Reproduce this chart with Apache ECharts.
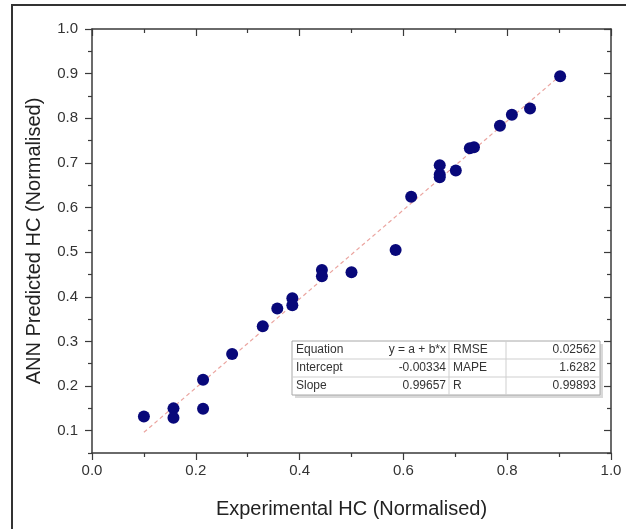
<!DOCTYPE html>
<html>
<head>
<meta charset="utf-8">
<script src="https://cdn.jsdelivr.net/npm/echarts@6/dist/echarts.min.js"></script>
<style>
  html, body { margin: 0; padding: 0; background: #fff; }
  #chart { width: 626px; height: 529px; }
</style>
</head>
<body>
<div id="chart"></div>
<script>
// Experimental vs. ANN-predicted heat capacity (both normalised)
const experimental = [0.10, 0.157, 0.157, 0.214, 0.214, 0.27, 0.329, 0.357, 0.386, 0.386,
                      0.443, 0.443, 0.50, 0.585, 0.615, 0.67, 0.67, 0.67, 0.701, 0.728,
                      0.736, 0.786, 0.809, 0.844, 0.902];
const predicted    = [0.132, 0.150, 0.129, 0.149, 0.214, 0.272, 0.334, 0.374, 0.397, 0.381,
                      0.460, 0.446, 0.455, 0.505, 0.624, 0.695, 0.674, 0.668, 0.683, 0.733,
                      0.735, 0.783, 0.808, 0.822, 0.894];

// Linear fit y = a + b*x, drawn over the experimental range
const fitIntercept = -0.00334;
const fitSlope = 0.99657;
const fitRange = [0.1, 0.9];

// Axis ticks
const xMajorTicks = [0, 0.2, 0.4, 0.6, 0.8, 1.0];
const yMajorTicks = [0.1, 0.2, 0.3, 0.4, 0.5, 0.6, 0.7, 0.8, 0.9, 1.0];
const yMinorTicks = [0.05, 0.15, 0.25, 0.35, 0.45, 0.55, 0.65, 0.75, 0.85, 0.95];

// Statistics table
const statNames  = ['Equation', 'Intercept', 'Slope'];
const statValues = ['y = a + b*x', '-0.00334', '0.99657'];
const errNames   = ['RMSE', 'MAPE', 'R'];
const errValues  = ['0.02562', '1.6282', '0.99893'];

const FONT = '"Liberation Sans", Arial, sans-serif';
const AXIS_COLOR = '#3a3a3a';
const fitPoints = fitRange.map(x => [x, fitIntercept + fitSlope * x]);
const points = experimental.map((x, i) => [x, predicted[i]]);

function xAxisDef(position, inside, withLabels) {
  return {
    type: 'value', min: 0, max: 1, interval: 0.2, position: position,
    axisLine: { show: true, onZero: false, lineStyle: { color: AXIS_COLOR, width: 1.5 } },
    axisTick: { show: true, inside: inside, length: 7, lineStyle: { color: AXIS_COLOR, width: 1.2 } },
    minorTick: { show: true, splitNumber: 2, length: 4, lineStyle: { color: AXIS_COLOR, width: 1.2 } },
    axisLabel: { show: withLabels, margin: 10, fontSize: 15, color: '#333', fontFamily: FONT,
                 formatter: v => v.toFixed(1) },
    splitLine: { show: false },
    minorSplitLine: { show: false }
  };
}

function yAxisDef(position, inside, ticks, len, withLabels, showLine) {
  return {
    type: 'value', min: 0.05, max: 1.0, position: position, offset: 0,
    axisLine: { show: showLine, onZero: false, lineStyle: { color: AXIS_COLOR, width: 1.5 } },
    axisTick: { show: true, inside: inside, length: len, customValues: ticks,
                lineStyle: { color: AXIS_COLOR, width: 1.2 } },
    axisLabel: withLabels
      ? { show: true, customValues: ticks, margin: 14, fontSize: 15, color: '#333', fontFamily: FONT,
          formatter: v => v.toFixed(1) }
      : { show: false },
    splitLine: { show: false }
  };
}

const xAxes = [xAxisDef('bottom', false, true), xAxisDef('top', true, false)];
xAxes[0].name = 'Experimental HC (Normalised)';
xAxes[0].nameLocation = 'middle';
xAxes[0].nameGap = 46;
xAxes[0].nameTextStyle = { fontSize: 20, color: '#222', fontFamily: FONT };

const yAxes = [
  yAxisDef('left', false, yMajorTicks, 7, true, true),
  yAxisDef('left', false, yMinorTicks, 4, false, false),
  yAxisDef('right', true, yMajorTicks, 7, false, true),
  yAxisDef('right', true, yMinorTicks, 4, false, false)
];
yAxes[0].name = 'ANN Predicted HC (Normalised)';
yAxes[0].nameLocation = 'middle';
yAxes[0].nameGap = 48;
yAxes[0].nameTextStyle = { fontSize: 20, color: '#222', fontFamily: FONT };

// Statistics table built as graphic elements
const tbl = { left: 292, top: 341, width: 308, rowH: 18, cols: [292, 449, 506, 600] };
const tableEls = [];
tableEls.push({ type: 'rect', shape: { x: tbl.left + 3, y: tbl.top + 3, width: tbl.width, height: tbl.rowH * 3 },
                style: { fill: '#d9d9d9' }, z: 10 });
tableEls.push({ type: 'rect', shape: { x: tbl.left, y: tbl.top, width: tbl.width, height: tbl.rowH * 3 },
                style: { fill: '#fff', stroke: '#a8a8a8', lineWidth: 1 }, z: 11 });
for (let r = 1; r < 3; r++) {
  tableEls.push({ type: 'line', shape: { x1: tbl.left, y1: tbl.top + r * tbl.rowH, x2: tbl.left + tbl.width, y2: tbl.top + r * tbl.rowH },
                  style: { stroke: '#cfcfcf', lineWidth: 1 }, z: 12 });
}
[tbl.cols[1], tbl.cols[2]].forEach(cx => {
  tableEls.push({ type: 'line', shape: { x1: cx, y1: tbl.top, x2: cx, y2: tbl.top + tbl.rowH * 3 },
                  style: { stroke: '#cfcfcf', lineWidth: 1 }, z: 12 });
});
const cellText = (txt, x, y, align) => ({
  type: 'text', x: x, y: y, z: 13,
  style: { text: txt, fill: '#333', font: '12px ' + FONT, textAlign: align, textVerticalAlign: 'middle' }
});
for (let r = 0; r < 3; r++) {
  const cy = tbl.top + r * tbl.rowH + tbl.rowH / 2;
  tableEls.push(cellText(statNames[r], tbl.cols[0] + 4, cy, 'left'));
  tableEls.push(cellText(statValues[r], tbl.cols[1] - 3, cy, 'right'));
  tableEls.push(cellText(errNames[r], tbl.cols[1] + 4, cy, 'left'));
  tableEls.push(cellText(errValues[r], tbl.cols[3] - 4, cy, 'right'));
}

const chart = echarts.init(document.getElementById('chart'), null, { renderer: 'canvas' });
chart.setOption({
  animation: false,
  backgroundColor: '#fff',
  grid: { left: 92, right: 15, top: 29, bottom: 76, containLabel: false },
  xAxis: xAxes,
  yAxis: yAxes,
  series: [
    {
      type: 'line', data: fitPoints, xAxisIndex: 0, yAxisIndex: 0,
      showSymbol: false, symbol: 'none', z: 2,
      lineStyle: { color: '#eba5a0', width: 1.2, type: [4, 3] }
    },
    {
      type: 'scatter', data: points, xAxisIndex: 0, yAxisIndex: 0,
      symbol: 'circle', symbolSize: 12, z: 3,
      itemStyle: { color: '#08087a', opacity: 1 }
    }
  ],
  graphic: [
    { type: 'rect', shape: { x: 12, y: 5, width: 700, height: 600 },
      style: { fill: 'none', stroke: '#333', lineWidth: 2 }, z: 20, silent: true },
    { type: 'group', children: tableEls }
  ]
});
</script>
</body>
</html>
